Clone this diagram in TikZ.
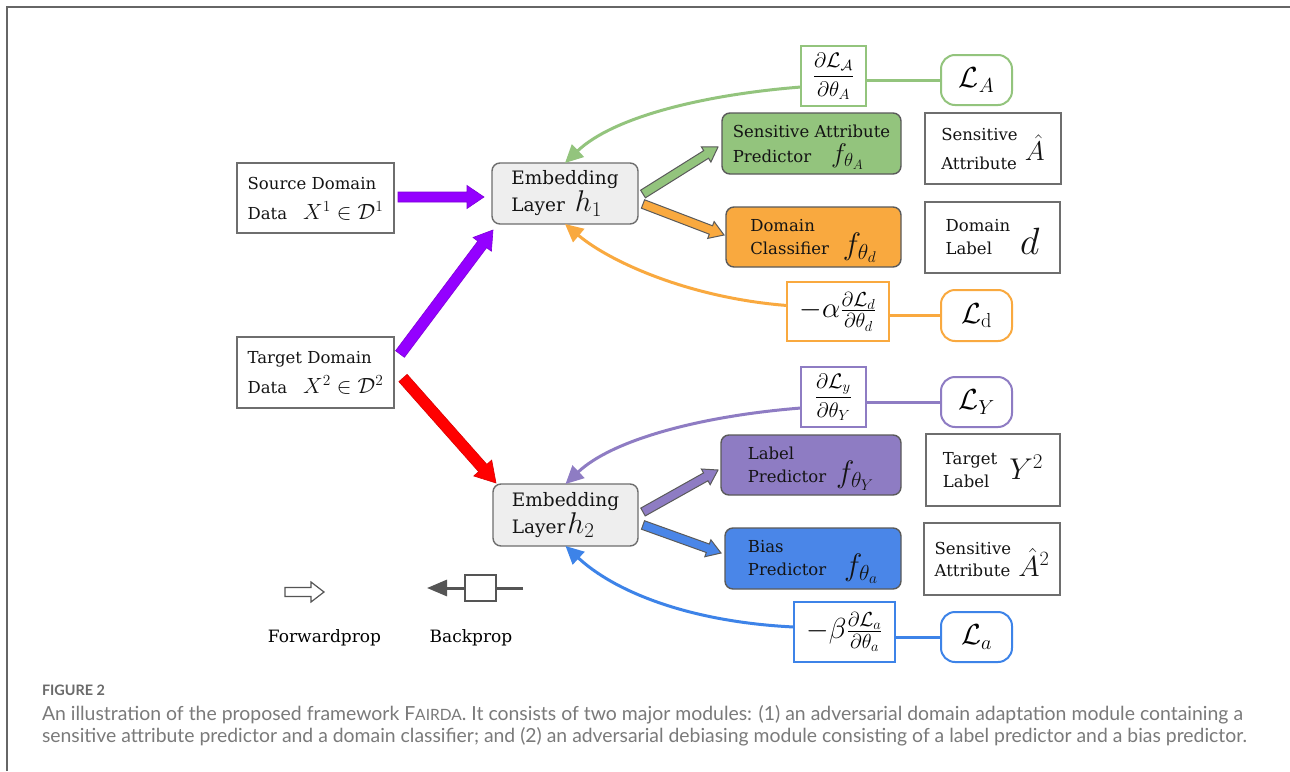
\RequirePackage{fix-cm}
\documentclass[tikz,border=0pt]{standalone}
\usepackage[no-math]{fontspec}
\usepackage{amsmath}
\usepackage{graphicx}
\usetikzlibrary{arrows.meta,calc}
\newfontfamily\capfont{Lato}
\newfontfamily\boxfont{DejaVu Serif}
\definecolor{boxgray}{HTML}{6E6E6E}
\definecolor{embfill}{HTML}{EEEEEE}
\definecolor{modborder}{HTML}{5A5A5A}
\definecolor{gfill}{HTML}{93C47D}
\definecolor{ofill}{HTML}{F9A93F}
\definecolor{pfill}{HTML}{8E7CC3}
\definecolor{bfill}{HTML}{4A86E8}
\definecolor{gline}{HTML}{93C47D}
\definecolor{oline}{HTML}{F9A93F}
\definecolor{pline}{HTML}{8E7CC3}
\definecolor{bline}{HTML}{3D83E8}
\definecolor{bigpurple}{HTML}{9400FF}
\definecolor{bigred}{HTML}{FF0000}
\definecolor{legendgray}{HTML}{555555}
\definecolor{framegray}{HTML}{666666}
\definecolor{capgray}{HTML}{7A7A7A}
\definecolor{figgray}{HTML}{6A6A6A}
\newcommand\mth[2]{{\fontsize{#1}{#1}\selectfont$#2$}}
\newcommand\bxf[2]{\boxfont\fontsize{#1}{#2}\selectfont}
% #1 style, #2 from, #3 to, #4 shaft half width, #5 head half width, #6 head length
\newcommand\blockarrow[6]{%
  \path[#1] let \p1=($(#3)-(#2)$), \n1={atan2(\y1,\x1)}, \n2={veclen(\x1,\y1)} in
    ($(#2)+({\n1+90}:{#4})$)
    -- ($(#2)+({\n1}:{\n2-#6})+({\n1+90}:{#4})$)
    -- ($(#2)+({\n1}:{\n2-#6})+({\n1+90}:{#5})$)
    -- (#3)
    -- ($(#2)+({\n1}:{\n2-#6})+({\n1-90}:{#5})$)
    -- ($(#2)+({\n1}:{\n2-#6})+({\n1-90}:{#4})$)
    -- ($(#2)+({\n1-90}:{#4})$) -- cycle;}
\tikzset{
  every node/.style={inner sep=0pt, outer sep=0pt},
  txt/.style={text=black!92, align=left},
  plainbox/.style={draw=boxgray, line width=1.4pt, fill=white, txt},
  embbox/.style={draw=boxgray, line width=1.4pt, fill=embfill, rounded corners=8pt, txt},
  modbox/.style={draw=modborder, line width=1.4pt, rounded corners=8pt, txt},
  gradbox/.style={draw=#1, line width=2pt, fill=white},
  lossbox/.style={draw=#1, line width=2pt, fill=white, rounded corners=14pt},
  backline/.style={draw=#1, line width=3pt, -{Triangle[length=18pt,width=17pt]}},
  fwdline/.style={draw=#1, line width=3pt},
  bigarrow/.style={fill=#1, draw=#1!85!black, line width=0.6pt},
  modarrow/.style={fill=#1, draw=modborder, line width=1pt},
}
\begin{document}
\begin{tikzpicture}[x=1pt,y=-1pt]
\useasboundingbox (0,0) rectangle (1290,771);
\fill[white] (0,0) rectangle (1290,771);
% frame
\draw[framegray, line width=1.6pt] (7,771) -- (7,7) -- (1290,7);

% input boxes
\node[plainbox, minimum width=157pt, minimum height=70pt, font=\bxf{16.5}{30}] (src) at (315.5,198)
  {Source Domain\\Data\hspace{16pt}\smash{\mth{22}{X^1\in\mathcal{D}^1}}};
\node[plainbox, minimum width=157pt, minimum height=71pt, font=\bxf{16.5}{30}] (tgt) at (315.5,372.5)
  {Target Domain\\Data\hspace{16pt}\smash{\mth{22}{X^2\in\mathcal{D}^2}}};

% embedding layers
\node[embbox, minimum width=146pt, minimum height=61pt, font=\bxf{18.5}{27}] (h1) at (565,193.5)
  {Embedding\\Layer\hspace{10pt}\smash{\mth{30}{h_1}}};
\node[embbox, minimum width=145pt, minimum height=62pt, font=\bxf{18.5}{27}] (h2) at (565.5,515)
  {Embedding\\Layer\hspace{2pt}\smash{\mth{30}{h_2}}};

% module boxes
\node[modbox, fill=gfill, minimum width=179pt, minimum height=61pt, font=\bxf{16.5}{25}] (sap) at (811.5,143.5)
  {Sensitive Attribute\\Predictor\hspace{20pt}\smash{\mth{27}{f_{\theta_A}}}};
\node[modbox, fill=ofill, minimum width=175pt, minimum height=60pt, font=\bxf{16.5}{23}] (dc) at (813.5,237)
  {Domain\\Classifier\hspace{14pt}\smash{\mth{31}{f_{\theta_d}}}};
\node[modbox, fill=pfill, minimum width=180pt, minimum height=60pt, font=\bxf{16.5}{23}] (lp) at (811,465)
  {Label\\Predictor\hspace{10pt}\smash{\mth{31}{f_{\theta_Y}}}};
\node[modbox, fill=bfill, minimum width=176pt, minimum height=61pt, font=\bxf{16.5}{23}] (bp) at (813,558.5)
  {Bias\\Predictor\hspace{18pt}\smash{\mth{31}{f_{\theta_a}}}};

% output boxes
\node[plainbox, minimum width=136pt, minimum height=71pt, font=\bxf{16.5}{29}] (sa) at (993,148.5)
  {Sensitive\\Attribute\hspace{8pt}\smash{\raisebox{9pt}{\mth{27}{\hat{A}}}}};
\node[plainbox, minimum width=135pt, minimum height=71pt, font=\bxf{16.5}{23}] (dl) at (992.5,237.5)
  {Domain\\Label\hspace{28pt}\smash{\mth{38}{d}}};
\node[plainbox, minimum width=134pt, minimum height=72pt, font=\bxf{16.5}{23}] (tl) at (993,470)
  {Target\\Label\hspace{20pt}\smash{\raisebox{8pt}{\mth{30}{Y^2}}}};
\node[plainbox, minimum width=136pt, minimum height=72pt, font=\bxf{16.5}{22}] (sa2) at (992,559)
  {Sensitive\\Attribute\hspace{8pt}\smash{\mth{29}{\hat{A}^2}}};

% gradient boxes
\node[gradbox=gline, minimum width=65pt, minimum height=60pt] (gA) at (833.5,76)
  {\mth{21}{\displaystyle\frac{\partial\mathcal{L}_{\mathcal{A}}}{\partial\theta_A}}};
\node[gradbox=oline, minimum width=102pt, minimum height=59pt] (gd) at (838,311.5)
  {\mth{29}{-\alpha\frac{\partial\mathcal{L}_d}{\partial\theta_d}}};
\node[gradbox=pline, minimum width=65pt, minimum height=60pt] (gY) at (833.5,397)
  {\mth{21}{\displaystyle\frac{\partial\mathcal{L}_y}{\partial\theta_Y}}};
\node[gradbox=bline, minimum width=101pt, minimum height=60pt] (ga) at (844.5,632)
  {\mth{29}{-\beta\frac{\partial\mathcal{L}_a}{\partial\theta_a}}};

% loss boxes
\node[lossbox=gline, minimum width=71pt, minimum height=50pt] (LA) at (976.5,80) {\mth{29}{\mathcal{L}_A}};
\node[lossbox=oline, minimum width=71pt, minimum height=51pt] (Ld) at (976.5,315.5) {\mth{29}{\mathcal{L}_{\mathrm{d}}}};
\node[lossbox=pline, minimum width=71pt, minimum height=50pt] (LY) at (976.5,402) {\mth{29}{\mathcal{L}_Y}};
\node[lossbox=bline, minimum width=71pt, minimum height=50pt] (La) at (976.5,637) {\mth{29}{\mathcal{L}_a}};

% loss to gradient lines
\draw[fwdline=gline] (LA.west) -- (LA.west -| gA.east);
\draw[fwdline=oline] (Ld.west) -- (Ld.west -| gd.east);
\draw[fwdline=pline] (LY.west) -- (LY.west -| gY.east);
\draw[fwdline=bline] (La.west) -- (La.west -| ga.east);

% backprop curves
\draw[backline=gline] ([yshift=-11pt]gA.west) .. controls (700,95) and (612,118) .. (h1.north);
\draw[backline=oline] ([yshift=6pt]gd.west) .. controls (690,298) and (610,262) .. (h1.south);
\draw[backline=pline] ([yshift=-11pt]gY.west) .. controls (700,416) and (612,440) .. (h2.north);
\draw[backline=bline] ([yshift=5pt]ga.west) .. controls (690,622) and (615,592) .. (h2.south);

% block arrow end points
\coordinate (a1s) at (398,197);  \coordinate (a1e) at (484,197);
\coordinate (a2s) at (400,354);  \coordinate (a2e) at (493,230);
\coordinate (a3s) at (403,378);  \coordinate (a3e) at (496,483);
\coordinate (a4s) at (643,194);  \coordinate (a4e) at (718,147);
\coordinate (a5s) at (643,204);  \coordinate (a5e) at (724,235);
\coordinate (a6s) at (643,512);  \coordinate (a6e) at (718,470);
\coordinate (a7s) at (643,525);  \coordinate (a7e) at (721,553);
\blockarrow{bigarrow=bigpurple}{a1s}{a1e}{5pt}{11.5pt}{17pt}
\blockarrow{bigarrow=bigpurple}{a2s}{a2e}{5.5pt}{11.5pt}{18pt}
\blockarrow{bigarrow=bigred}{a3s}{a3e}{5.5pt}{12pt}{20pt}
\blockarrow{modarrow=gfill}{a4s}{a4e}{4.5pt}{9pt}{14pt}
\blockarrow{modarrow=ofill}{a5s}{a5e}{4.5pt}{9pt}{14pt}
\blockarrow{modarrow=pfill}{a6s}{a6e}{4.5pt}{9pt}{14pt}
\blockarrow{modarrow=bfill}{a7s}{a7e}{4.5pt}{9pt}{14pt}

% legend
\coordinate (fpS) at (285,592); \coordinate (fpE) at (324,592);
\blockarrow{draw=legendgray, line width=1.2pt, fill=white}{fpS}{fpE}{4.5pt}{10pt}{13pt}
\coordinate (bpR) at (523,588); \coordinate (bpL) at (427,588);
\draw[legendgray, line width=3pt, -{Triangle[length=20pt,width=16pt]}] (bpR) -- (bpL);
\node[draw=legendgray, line width=1.3pt, fill=white, minimum width=31pt, minimum height=26pt] (bpbox) at (480.5,588) {};
\node[anchor=base, font=\bxf{17}{22}] (fwdlbl) at (324.5,642) {Forwardprop};
\node[anchor=base, font=\bxf{17}{22}] (bcklbl) at (471,642) {Backprop};

% caption
\node[anchor=base west, text=figgray] (figlbl) at (42,695) {\resizebox{63pt}{!}{\capfont\bfseries FIGURE 2}};
\node[anchor=base west, text=capgray] (cap1) at (42,720) {\resizebox{1201pt}{!}{\capfont\fontsize{17}{20}\selectfont An illustration of the proposed framework F{\fontsize{13.6}{14}\selectfont AIRDA}. It consists of two major modules: (1) an adversarial domain adaptation module containing a}};
\node[anchor=base west, text=capgray] (cap2) at (42,742) {\resizebox{1205pt}{!}{\capfont\fontsize{17}{20}\selectfont sensitive attribute predictor and a domain classifier; and (2) an adversarial debiasing module consisting of a label predictor and a bias predictor.}};
\end{tikzpicture}
\end{document}
